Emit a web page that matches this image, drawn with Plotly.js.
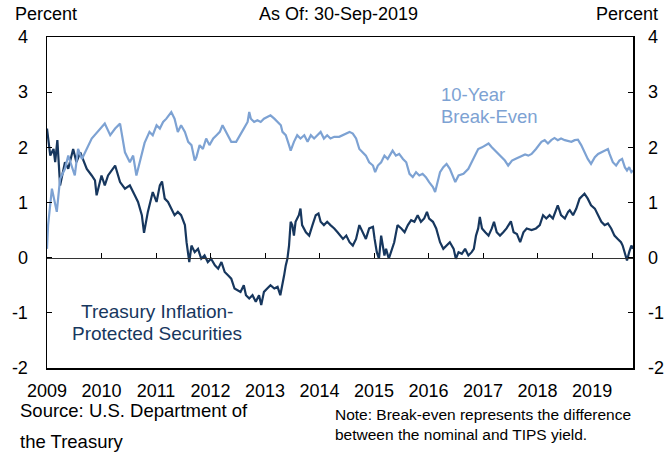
<!DOCTYPE html>
<html>
<head>
<meta charset="utf-8">
<script src="https://cdn.plot.ly/plotly-3.0.1.min.js"></script>
<style>html,body{margin:0;padding:0;background:#fff;}#chart{width:666px;height:457px;}</style>
</head>
<body>
<div id="chart"></div>
<script>
// Treasury Inflation-Protected Securities (10-year TIPS yield), decimal years
const tipsYears = [2009.00,2009.06,2009.12,2009.15,2009.19,2009.24,2009.33,2009.39,2009.48,2009.54,2009.61,2009.73,2009.82,2009.88,2009.91,2010.00,2010.06,2010.12,2010.25,2010.34,2010.43,2010.52,2010.61,2010.67,2010.74,2010.78,2010.85,2010.91,2010.94,2011.01,2011.07,2011.11,2011.16,2011.22,2011.28,2011.34,2011.40,2011.46,2011.53,2011.56,2011.61,2011.65,2011.71,2011.77,2011.83,2011.89,2011.95,2012.01,2012.08,2012.14,2012.20,2012.26,2012.32,2012.38,2012.44,2012.50,2012.55,2012.61,2012.65,2012.71,2012.77,2012.83,2012.89,2012.93,2012.98,2013.04,2013.10,2013.17,2013.23,2013.28,2013.32,2013.35,2013.38,2013.41,2013.44,2013.47,2013.50,2013.53,2013.56,2013.62,2013.65,2013.68,2013.75,2013.81,2013.87,2013.93,2013.98,2014.02,2014.08,2014.14,2014.20,2014.27,2014.33,2014.38,2014.43,2014.49,2014.55,2014.61,2014.67,2014.73,2014.79,2014.85,2014.91,2014.98,2015.01,2015.05,2015.09,2015.13,2015.19,2015.22,2015.27,2015.31,2015.37,2015.43,2015.50,2015.56,2015.62,2015.68,2015.74,2015.80,2015.86,2015.92,2015.97,2016.01,2016.08,2016.14,2016.18,2016.21,2016.27,2016.33,2016.39,2016.46,2016.50,2016.55,2016.61,2016.67,2016.73,2016.79,2016.83,2016.87,2016.91,2016.94,2016.98,2017.04,2017.10,2017.16,2017.20,2017.25,2017.31,2017.37,2017.43,2017.51,2017.56,2017.62,2017.68,2017.74,2017.80,2017.89,2017.97,2018.04,2018.10,2018.16,2018.22,2018.28,2018.34,2018.37,2018.43,2018.50,2018.56,2018.59,2018.65,2018.71,2018.77,2018.83,2018.86,2018.92,2018.98,2019.05,2019.11,2019.17,2019.23,2019.29,2019.35,2019.41,2019.47,2019.53,2019.56,2019.61,2019.64,2019.68,2019.72,2019.75];
const tips = [2.34,1.85,1.97,1.73,2.13,1.31,1.73,1.61,1.97,1.73,1.91,1.61,1.49,1.40,1.13,1.49,1.31,1.49,1.67,1.37,1.25,1.31,1.13,1.01,0.77,0.45,0.83,1.07,1.19,1.01,1.31,1.38,1.07,1.01,0.89,0.77,0.83,0.77,0.59,0.28,-0.08,0.22,0.10,0.16,-0.02,0.04,-0.08,-0.02,-0.14,-0.20,-0.08,-0.26,-0.32,-0.38,-0.56,-0.59,-0.62,-0.50,-0.68,-0.74,-0.68,-0.80,-0.68,-0.86,-0.62,-0.56,-0.50,-0.56,-0.53,-0.68,-0.50,-0.32,-0.14,-0.02,0.22,0.65,0.59,0.40,0.65,0.77,0.89,0.59,0.46,0.40,0.59,0.77,0.80,0.65,0.59,0.65,0.59,0.53,0.46,0.40,0.34,0.40,0.28,0.22,0.34,0.59,0.46,0.34,0.53,0.56,0.34,0.10,-0.02,0.40,0.04,0.16,-0.02,0.10,0.28,0.59,0.53,0.46,0.59,0.68,0.65,0.77,0.65,0.71,0.83,0.71,0.65,0.53,0.40,0.28,0.16,0.22,0.28,0.16,-0.02,0.10,0.07,0.16,0.04,0.10,0.16,0.40,0.53,0.74,0.53,0.46,0.40,0.53,0.65,0.46,0.40,0.46,0.53,0.66,0.46,0.43,0.28,0.46,0.53,0.50,0.53,0.59,0.77,0.71,0.77,0.71,0.89,0.95,0.77,0.71,0.83,0.86,0.77,0.89,1.07,1.13,1.16,1.07,0.95,0.89,0.77,0.65,0.59,0.62,0.53,0.40,0.34,0.28,0.22,0.04,-0.05,0.10,0.22,0.16];

// 10-Year Break-Even inflation rate, decimal years
const beYears = [2009.00,2009.02,2009.09,2009.18,2009.24,2009.33,2009.39,2009.51,2009.57,2009.64,2009.82,2009.97,2010.06,2010.16,2010.25,2010.34,2010.43,2010.52,2010.58,2010.64,2010.74,2010.79,2010.88,2010.94,2011.01,2011.07,2011.13,2011.19,2011.28,2011.34,2011.40,2011.46,2011.53,2011.59,2011.65,2011.71,2011.74,2011.80,2011.86,2011.92,2011.98,2012.05,2012.11,2012.17,2012.22,2012.28,2012.32,2012.38,2012.47,2012.55,2012.61,2012.68,2012.71,2012.74,2012.80,2012.86,2012.92,2012.98,2013.04,2013.10,2013.17,2013.23,2013.29,2013.32,2013.38,2013.44,2013.47,2013.53,2013.59,2013.65,2013.72,2013.78,2013.84,2013.90,2013.96,2014.02,2014.08,2014.14,2014.20,2014.27,2014.36,2014.43,2014.49,2014.55,2014.61,2014.67,2014.73,2014.79,2014.85,2014.91,2014.98,2015.02,2015.07,2015.13,2015.19,2015.25,2015.31,2015.34,2015.40,2015.46,2015.53,2015.59,2015.65,2015.71,2015.77,2015.83,2015.89,2015.95,2016.01,2016.08,2016.12,2016.16,2016.21,2016.27,2016.33,2016.39,2016.46,2016.49,2016.55,2016.64,2016.73,2016.79,2016.85,2016.91,2016.98,2017.04,2017.10,2017.16,2017.22,2017.28,2017.34,2017.40,2017.46,2017.53,2017.59,2017.65,2017.71,2017.77,2017.83,2017.89,2017.97,2018.01,2018.07,2018.13,2018.19,2018.25,2018.31,2018.37,2018.43,2018.50,2018.56,2018.62,2018.68,2018.74,2018.80,2018.86,2018.92,2018.98,2019.05,2019.11,2019.17,2019.23,2019.29,2019.32,2019.38,2019.44,2019.50,2019.55,2019.60,2019.64,2019.68,2019.72,2019.75];
const breakEven = [0.16,0.59,1.25,0.83,1.43,1.61,1.85,1.49,1.97,1.79,2.16,2.34,2.43,2.22,2.34,2.43,1.91,1.73,1.85,1.49,1.85,2.08,2.28,2.22,2.40,2.34,2.46,2.52,2.64,2.52,2.28,2.40,2.28,2.10,2.04,1.76,1.82,2.04,1.97,2.16,2.04,2.16,2.22,2.28,2.40,2.28,2.22,2.10,2.10,2.25,2.34,2.46,2.64,2.52,2.46,2.49,2.46,2.52,2.55,2.58,2.52,2.46,2.40,2.28,2.22,2.04,1.94,2.10,2.22,2.16,2.22,2.10,2.22,2.16,2.22,2.28,2.16,2.22,2.16,2.19,2.19,2.22,2.25,2.28,2.25,2.16,1.97,1.91,1.85,1.73,1.67,1.55,1.67,1.73,1.85,1.79,1.91,1.94,1.85,1.88,1.79,1.73,1.52,1.46,1.55,1.49,1.52,1.46,1.37,1.28,1.19,1.37,1.55,1.64,1.70,1.61,1.43,1.37,1.49,1.52,1.61,1.73,1.85,1.97,2.00,2.03,2.07,2.00,1.94,1.88,1.82,1.76,1.67,1.76,1.79,1.82,1.85,1.87,1.85,1.88,1.97,2.03,2.10,2.13,2.07,2.13,2.17,2.13,2.16,2.13,2.11,2.10,2.13,2.14,2.04,1.91,1.79,1.70,1.82,1.88,1.91,1.94,1.97,1.88,1.73,1.67,1.76,1.79,1.64,1.58,1.64,1.55,1.58];

const yearTicks = [2009,2010,2011,2012,2013,2014,2015,2016,2017,2018,2019];
const yearLabels = ['2009','2010','2011','2012','2013','2014','2015','2016','2017','2018','2019'];
const innerYearTicks = [2010,2011,2012,2013,2014,2015,2016,2017,2018,2019];
const yTicks = [-2,-1,0,1,2,3,4];
const yLabels = ['-2','-1','0','1','2','3','4'];

const FONT = 'Liberation Sans, Arial, sans-serif';
const DARK = '#17375e';
const LIGHT = '#7da2d3';
const xRange = [2009, 2019.75];
const yRange = [-2, 4];

const traces = [
  {x: tipsYears, y: tips, type: 'scatter', mode: 'lines', xaxis: 'x', yaxis: 'y',
   line: {color: DARK, width: 2.2}, hoverinfo: 'skip', showlegend: false},
  {x: beYears, y: breakEven, type: 'scatter', mode: 'lines', xaxis: 'x2', yaxis: 'y2',
   line: {color: LIGHT, width: 2.2}, hoverinfo: 'skip', showlegend: false}
];

const layout = {
  width: 666, height: 457,
  margin: {l: 47, r: 33, t: 37, b: 89, pad: 0},
  paper_bgcolor: '#fff', plot_bgcolor: '#fff',
  font: {family: FONT, color: '#000', size: 18},
  showlegend: false,
  xaxis: {
    type: 'linear', range: xRange, tickvals: yearTicks, ticktext: yearLabels,
    ticks: '', showline: true, mirror: true, linecolor: '#000', linewidth: 1.5,
    showgrid: false, zeroline: false, tickfont: {size: 18, family: FONT},
    ticklabelstandoff: 6, fixedrange: true
  },
  xaxis2: {
    type: 'linear', range: xRange, overlaying: 'x', anchor: 'free', position: 1/3,
    side: 'bottom', tickvals: innerYearTicks, ticks: 'inside', ticklen: 5, tickwidth: 1,
    tickcolor: '#000', showticklabels: false, showline: true, linecolor: '#333',
    linewidth: 1.5, showgrid: false, zeroline: false, fixedrange: true
  },
  yaxis: {
    range: yRange, tickvals: yTicks, ticktext: yLabels, ticks: 'inside', ticklen: 5,
    tickcolor: '#000', showline: true, mirror: true, linecolor: '#000', linewidth: 1.5,
    showgrid: false, zeroline: false, tickfont: {size: 18, family: FONT},
    ticklabelstandoff: 14, fixedrange: true
  },
  yaxis2: {
    range: yRange, tickvals: yTicks, ticktext: yLabels, overlaying: 'y', side: 'right',
    anchor: 'x', ticks: 'inside', ticklen: 5, tickcolor: '#000', showline: false,
    showgrid: false, zeroline: false, tickfont: {size: 18, family: FONT},
    ticklabelstandoff: 14, fixedrange: true
  },
  annotations: [
    {text: 'Percent', xref: 'paper', yref: 'paper', x: -0.058, y: 1.068, xanchor: 'left', yanchor: 'middle', showarrow: false, font: {size: 18}},
    {text: 'Percent', xref: 'paper', yref: 'paper', x: 1.046, y: 1.068, xanchor: 'right', yanchor: 'middle', showarrow: false, font: {size: 18}},
    {text: 'As Of: 30-Sep-2019', xref: 'paper', yref: 'paper', x: 0.497, y: 1.068, xanchor: 'center', yanchor: 'middle', showarrow: false, font: {size: 18}},
    {text: '10-Year', xref: 'x', yref: 'y', x: 2016.2, y: 2.95, xanchor: 'left', yanchor: 'middle', showarrow: false, font: {size: 18.5, color: LIGHT}},
    {text: 'Break-Even', xref: 'x', yref: 'y', x: 2016.2, y: 2.55, xanchor: 'left', yanchor: 'middle', showarrow: false, font: {size: 18.5, color: LIGHT}},
    {text: 'Treasury Inflation-', xref: 'x', yref: 'y', x: 2011.02, y: -0.98, xanchor: 'center', yanchor: 'middle', showarrow: false, font: {size: 19, color: DARK}},
    {text: 'Protected Securities', xref: 'x', yref: 'y', x: 2011.02, y: -1.38, xanchor: 'center', yanchor: 'middle', showarrow: false, font: {size: 19, color: DARK}},
    {text: 'Source: U.S. Department of', xref: 'paper', yref: 'paper', x: -0.0495, y: -0.128, xanchor: 'left', yanchor: 'middle', showarrow: false, font: {size: 18.5}},
    {text: 'the Treasury', xref: 'paper', yref: 'paper', x: -0.0495, y: -0.222, xanchor: 'left', yanchor: 'middle', showarrow: false, font: {size: 18.5}},
    {text: 'Note: Break-even represents the difference', xref: 'paper', yref: 'paper', x: 0.488, y: -0.140, xanchor: 'left', yanchor: 'middle', showarrow: false, font: {size: 15.5}},
    {text: 'between the nominal and TIPS yield.', xref: 'paper', yref: 'paper', x: 0.488, y: -0.201, xanchor: 'left', yanchor: 'middle', showarrow: false, font: {size: 15.5}}
  ]
};

Plotly.newPlot('chart', traces, layout, {staticPlot: true, displayModeBar: false});
</script>
</body>
</html>
